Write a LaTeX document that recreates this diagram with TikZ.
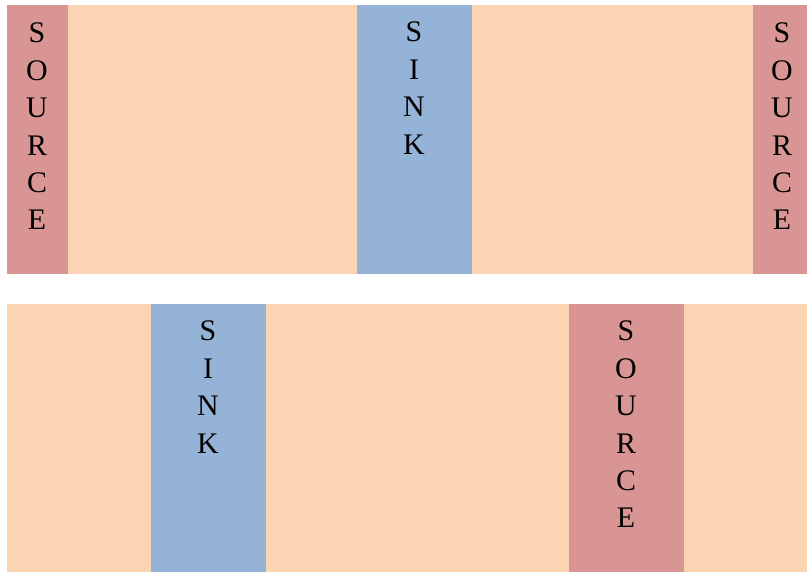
\documentclass[tikz,border=0pt]{standalone}
\usepackage{fontspec}
\setmainfont{Liberation Serif}
\definecolor{peach}{HTML}{FBD4B4}
\definecolor{sinkblue}{HTML}{95B3D7}
\definecolor{sourcered}{HTML}{D99594}
\begin{document}
\begin{tikzpicture}[x=1bp,y=-1bp,
  word/.style={anchor=north,inner sep=0pt,align=center,font=\fontsize{30}{37.5}\selectfont}]
\useasboundingbox (0,0) rectangle (807,572);
% top band
\fill[peach] (7,5) rectangle (807,274);
\fill[sourcered] (7,5) rectangle (68,274);
\fill[sinkblue] (357,5) rectangle (472,274);
\fill[sourcered] (753,5) rectangle (807,274);
% bottom band
\fill[peach] (7,304) rectangle (807,572);
\fill[sinkblue] (151,304) rectangle (266,572);
\fill[sourcered] (569,304) rectangle (684,572);
% labels
\node[word] (src1) at (37,23) {S\\O\\U\\R\\C\\E};
\node[word] (snk1) at (414,22) {S\\I\\N\\K};
\node[word] (src2) at (782,23) {S\\O\\U\\R\\C\\E};
\node[word] (snk2) at (208,321) {S\\I\\N\\K};
\node[word] (src3) at (626,321) {S\\O\\U\\R\\C\\E};
\end{tikzpicture}
\end{document}
